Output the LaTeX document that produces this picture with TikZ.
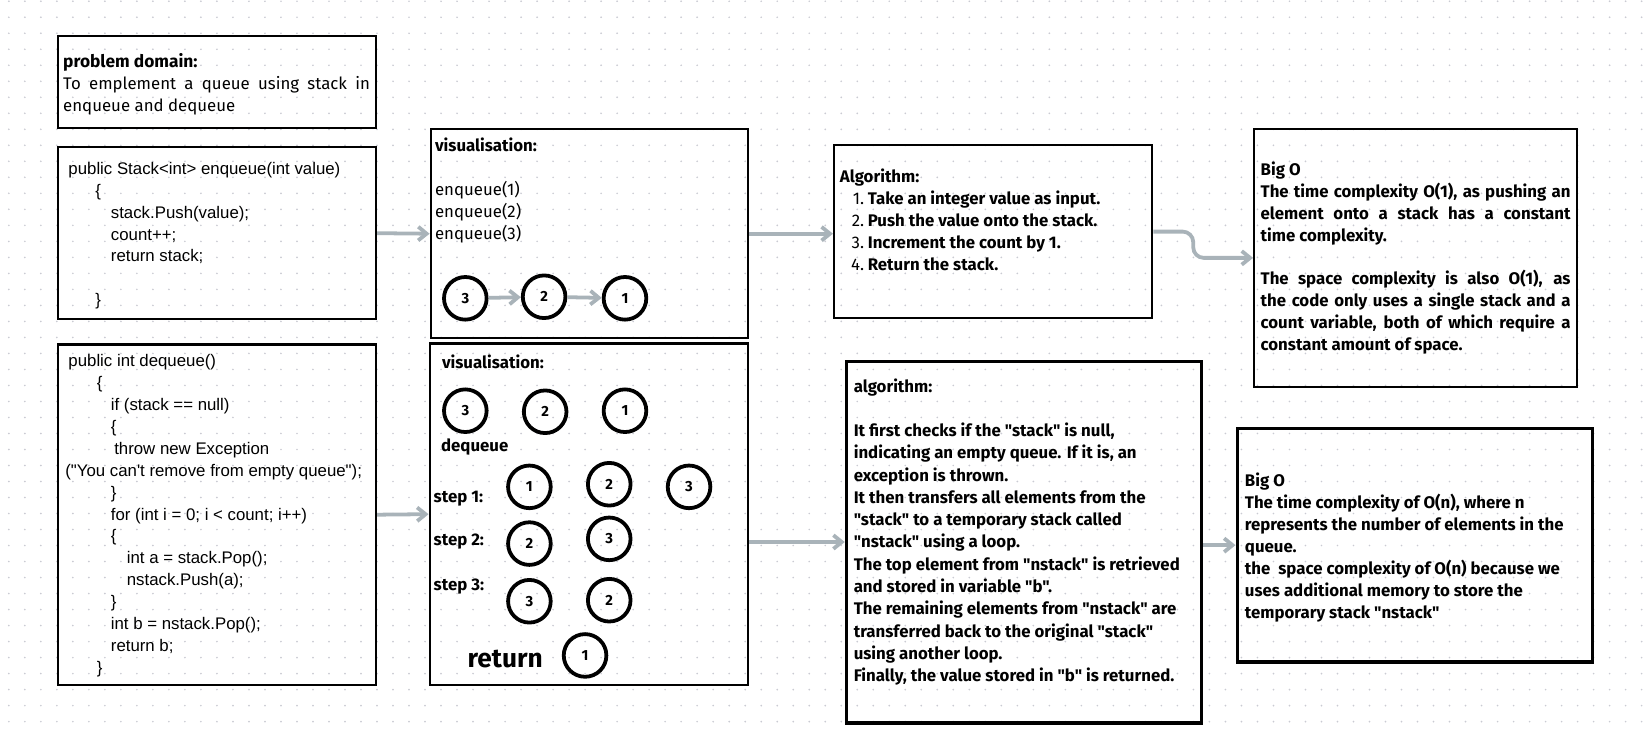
\documentclass[tikz,border=0pt]{standalone}
\usepackage{fontspec}
\setmainfont{Fira Sans}[Ligatures=TeXOff]
\newfontfamily\codefont{Liberation Sans}[Ligatures=TeXOff]
\usetikzlibrary{arrows.meta}
\definecolor{linkgray}{HTML}{A9B3B9}
\definecolor{dotgray}{HTML}{CACBD3}
\begin{document}
\begin{tikzpicture}[x=1pt,y=-1pt,
  panel/.style={draw,line width=2pt,inner sep=0pt},
  heavy panel/.style={panel,line width=3.5pt},
  bead/.style={circle,draw,line width=3.6pt,minimum size=40.6pt,inner sep=0pt,font=\bfseries\fontsize{14}{14}\selectfont},
  link/.style={draw=linkgray,line width=3.6pt,-{Straight Barb[length=8pt,width=13pt]}},
  txt/.style={anchor=north west,inner sep=0pt,align=left,font=\fontsize{16}{20.85}\selectfont},
  listing/.style={txt,font=\codefont\fontsize{16}{20.85}\selectfont},
  label/.style={anchor=base west,inner sep=0pt,font=\bfseries\fontsize{16}{20}\selectfont}]
\useasboundingbox (0,0) rectangle (1568,697);
\foreach \i in {0,...,102} {\foreach \j in {0,...,45} {\fill[dotgray] (8.4+15.24*\i,1.2+15.24*\j) circle[radius=0.9pt];}}
\node[panel,minimum width=303pt,minimum height=88pt] (v0) at (206.5,78) {};
\node[panel,minimum width=303pt,minimum height=164pt] (v1) at (206.5,222) {};
\node[panel,minimum width=303pt,minimum height=324pt] (v2) at (206.5,490) {};
\node[panel,minimum width=302pt,minimum height=199pt] (v3) at (561,222.5) {};
\node[panel,minimum width=303pt,minimum height=325pt] (v4) at (560.5,489.5) {};
\node[panel,minimum width=303pt,minimum height=165pt] (v5) at (945.5,220.5) {};
\node[heavy panel,minimum width=338pt,minimum height=344pt] (v6) at (975,516) {};
\node[panel,minimum width=307.6pt,minimum height=245pt] (v7) at (1347.8,245.5) {};
\node[heavy panel,minimum width=338pt,minimum height=222pt] (v8) at (1347,519) {};
\node[txt,font=\fontsize{16}{21}\selectfont] (v9) at (60,49) {\strut{\bfseries\fontsize{16.5}{21}\selectfont problem domain:}\\
  \makebox[292pt][s]{To emplement a queue using stack in}\\
  enqueue and dequeue};
\node[listing] (v10) at (65,151.2) {\strut public Stack<int> enqueue(int value)\\
  \hspace*{25.5pt}\{\\
  \hspace*{40.4pt}stack.Push(value);\\
  \hspace*{40.4pt}count++;\\
  \hspace*{40.4pt}return stack;\\
  \strut\\
  \hspace*{25.5pt}\}};
\node[listing] (v11) at (62,334.3) {\strut\hspace*{3pt}public int dequeue()\\
  \hspace*{30pt}\{\\
  \hspace*{43.4pt}if (stack == null)\\
  \hspace*{43.4pt}\{\\
  \hspace*{46.6pt}throw new Exception\\
  ("You can't remove from empty queue");\\
  \hspace*{43.4pt}\}\\
  \hspace*{43.4pt}for (int i = 0; i < count; i++)\\
  \hspace*{43.4pt}\{\\
  \hspace*{58.6pt}int a = stack.Pop();\\
  \hspace*{58.6pt}nstack.Push(a);\\
  \hspace*{43.4pt}\}\\
  \hspace*{43.4pt}int b = nstack.Pop();\\
  \hspace*{43.4pt}return b;\\
  \hspace*{30pt}\}};
\node[txt,font=\fontsize{16}{21}\selectfont] (v12) at (414,129.3) {\strut\textbf{visualisation:}\\
  \strut\\
  enqueue(1)\\
  enqueue(2)\\
  enqueue(3)};
\node[label] (v13) at (420.6,351) {visualisation:};
\node[label] (v14) at (419.7,430) {dequeue};
\node[label] (v15) at (412.7,478) {step 1:};
\node[label] (v16) at (412.7,519) {step 2:};
\node[label] (v17) at (412.7,562) {step 3:};
\node[label,anchor=base,font=\bfseries\fontsize{25}{25}\selectfont] (v18) at (481,635) {return};
\node[txt,font=\bfseries\fontsize{16}{20.8}\selectfont] (v19) at (799.4,159.4) {\strut Algorithm:\\
  \makebox[26.6pt][r]{\mdseries 1.\hspace{3.5pt}}Take an integer value as input.\\
  \makebox[26.6pt][r]{\mdseries 2.\hspace{3.5pt}}Push the value onto the stack.\\
  \makebox[26.6pt][r]{\mdseries 3.\hspace{3.5pt}}Increment the count by 1.\\
  \makebox[26.6pt][r]{\mdseries 4.\hspace{3.5pt}}Return the stack.};
\node[txt,font=\bfseries\fontsize{16}{21.2}\selectfont] (v20) at (812.6,358.2) {\strut algorithm:\\
  \strut\\
  It first checks if the "stack" is null,\\
  indicating an empty queue. If it is, an\\
  exception is thrown.\\
  It then transfers all elements from the\\
  "stack" to a temporary stack called\\
  "nstack" using a loop.\\
  The top element from "nstack" is retrieved\\
  and stored in variable "b".\\
  The remaining elements from "nstack" are\\
  transferred back to the original "stack"\\
  using another loop.\\
  Finally, the value stored in "b" is returned.};
\node[txt,font=\bfseries\fontsize{16}{20.8}\selectfont] (v21) at (1200,152.4) {\strut Big O\\
  \makebox[295pt][s]{The time complexity O(1), as pushing an}\\
  \makebox[295pt][s]{element onto a stack has a constant}\\
  time complexity.\\
  \strut\\
  \makebox[295pt][s]{The space complexity is also O(1), as}\\
  \makebox[295pt][s]{the code only uses a single stack and a}\\
  \makebox[295pt][s]{count variable, both of which require a}\\
  constant amount of space.};
\node[txt,font=\bfseries\fontsize{16}{20.9}\selectfont] (v22) at (1185,448.4) {\strut Big O\\
  The time complexity of O(n), where n\\
  represents the number of elements in the\\
  queue.\\
  the\ \ space complexity of O(n) because we\\
  uses additional memory to store the\\
  temporary stack "nstack"};
\node[bead] (v23) at (443,284) {3};
\node[bead] (v24) at (518,282.5) {2};
\node[bead] (v25) at (595,284) {1};
\node[bead] (v26) at (443,391) {3};
\node[bead] (v27) at (519,392) {2};
\node[bead] (v28) at (595,391) {1};
\node[bead] (v29) at (504,463.5) {1};
\node[bead] (v30) at (580,461) {2};
\node[bead] (v31) at (656,463.5) {3};
\node[bead] (v32) at (504,517.5) {2};
\node[bead] (v33) at (580,513) {3};
\node[bead] (v34) at (504,572.4) {3};
\node[bead] (v35) at (580,571.4) {2};
\node[bead] (v36) at (557,624) {1};
\draw [link] (v23) edge (v24);
\draw [link] (v24) edge (v25);
\draw [link] (v1.east) -- (v3.west);
\draw [link] (v2.east) -- (v4.west);
\draw [link] (v3.east) -- (v5.west |- v3.east);
\draw [link] (v4.east |- v6.west) -- (v6.west);
\draw [link,rounded corners=10pt] (v5.east) -- ++(38,0) |- (v7.west);
\draw [link] (v6.east |- v8.west) -- (v8.west);
\end{tikzpicture}
\end{document}
